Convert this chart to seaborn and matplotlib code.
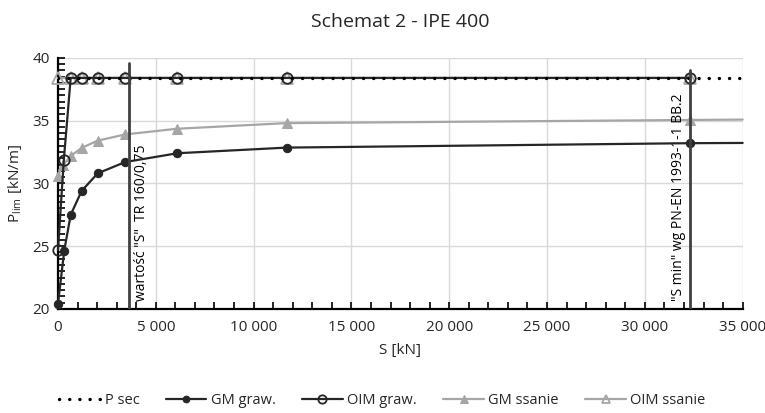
import matplotlib
matplotlib.use("Agg")
import matplotlib.pyplot as plt
import seaborn as sns
import numpy as np
import pandas as pd
from matplotlib.ticker import FuncFormatter, MultipleLocator

# ---- data ----
psec_x = [0, 35000]
psec_y = [38.4, 38.4]

gm_graw_x = [0, 320, 650, 1210, 2030, 3440, 6100, 11700, 32300, 35000]
gm_graw_y = [20.4, 24.65, 27.5, 29.4, 30.8, 31.7, 32.4, 32.85, 33.2, 33.22]

oim_graw_x = [0, 300, 650, 1210, 2030, 3440, 6100, 11700, 32300]
oim_graw_y = [24.7, 31.9, 38.4, 38.4, 38.4, 38.4, 38.4, 38.4, 38.4]

gm_ss_x = [0, 270, 660, 1240, 2030, 3440, 6080, 11700, 32300, 35000]
gm_ss_y = [30.6, 31.5, 32.2, 32.85, 33.4, 33.9, 34.35, 34.8, 35.05, 35.08]

oim_ss_x = [0, 650, 1210, 2030, 3440, 6100, 11700, 32300]
oim_ss_y = [38.4, 38.4, 38.4, 38.4, 38.4, 38.4, 38.4, 38.4]

vline1_x = 3620
vline1_top = 39.55
vline1_label = 'wartość "S"  TR 160/0,75'
vline2_x = 32330
vline2_top = 39.0
vline2_label = '"S min" wg PN-EN 1993-1-1 BB.2'

title = "Schemat 2 - IPE 400"
xlabel = "S [kN]"
ylabel = r"P$_{\mathregular{lim}}$ [kN/m]"

sns.set_theme(style="white")
plt.rcParams['font.family'] = ['Open Sans', 'DejaVu Sans']

fig = plt.figure(figsize=(7.65, 4.13), dpi=100)
ax = fig.add_axes([0.0758, 0.252, 0.895, 0.608])

dark = "#262626"
grey = "#a6a6a6"
vcol = "#404040"

sns.lineplot(x=psec_x, y=psec_y, ax=ax, color="black", lw=2.4,
             linestyle=(0, (0.05, 3.0)), dash_capstyle='round', label="P sec", zorder=6)
sns.lineplot(x=gm_graw_x, y=gm_graw_y, ax=ax, color=dark, lw=1.6, marker="o",
             markersize=6, markeredgecolor=dark, label="GM graw.", zorder=4, sort=False,
             markevery=list(range(len(gm_graw_x) - 1)), clip_on=False)
sns.lineplot(x=oim_graw_x, y=oim_graw_y, ax=ax, color=dark, lw=1.6, marker="o",
             markersize=7.5, markerfacecolor="none", markeredgecolor=dark, markeredgewidth=1.3,
             label="OIM graw.", zorder=5, sort=False, clip_on=False)
sns.lineplot(x=gm_ss_x, y=gm_ss_y, ax=ax, color=grey, lw=1.6, marker="^",
             markersize=6.5, markeredgecolor=grey, label="GM ssanie", zorder=3, sort=False,
             markevery=list(range(len(gm_ss_x) - 1)), clip_on=False)
sns.lineplot(x=oim_ss_x, y=oim_ss_y, ax=ax, color=grey, lw=1.6, marker="^",
             markersize=8, markerfacecolor="none", markeredgecolor=grey, markeredgewidth=1.3,
             label="OIM ssanie", zorder=3, sort=False, clip_on=False)

ax.plot([vline1_x, vline1_x], [20, vline1_top], color=vcol, lw=2, zorder=7)
ax.plot([vline2_x, vline2_x], [20, vline2_top], color=vcol, lw=2, zorder=7)
ax.text(vline1_x + 250, 20.6, vline1_label, rotation=90, ha="left", va="bottom",
        fontsize=10, color="black")
ax.text(vline2_x - 250, 20.6, vline2_label, rotation=90, ha="right", va="bottom",
        fontsize=10, color="black")

ax.set_xlim(0, 35000)
ax.set_ylim(20, 40)
ax.xaxis.set_major_locator(MultipleLocator(5000))
ax.xaxis.set_minor_locator(MultipleLocator(1000))
ax.yaxis.set_major_locator(MultipleLocator(5))
ax.yaxis.set_minor_locator(MultipleLocator(0.5))
ax.xaxis.set_major_formatter(FuncFormatter(lambda v, p: f"{int(v):,}".replace(",", " ")))
ax.grid(True, which="major", color="#d9d9d9", lw=1)
ax.set_axisbelow(True)

for s in ["top", "right"]:
    ax.spines[s].set_visible(False)
for s in ["left", "bottom"]:
    ax.spines[s].set_color("black")
    ax.spines[s].set_linewidth(1.6)
ax.tick_params(axis="both", which="both", direction="in", color="black", width=1.2,
               labelsize=11, pad=8)
ax.tick_params(axis="both", which="major", length=5)
ax.tick_params(axis="both", which="minor", length=5)
ax.tick_params(axis="x", which="both", top=False, bottom=True)
ax.tick_params(axis="y", which="both", left=True, right=False, pad=6)

ax.set_title(title, fontsize=14, pad=22)
ax.set_xlabel(xlabel, fontsize=11, labelpad=6)
ax.set_ylabel(ylabel, fontsize=11, labelpad=6)

ax.get_legend().remove()
h, l = ax.get_legend_handles_labels()
fig.legend(h, l, loc="lower center", ncol=5, frameon=False, fontsize=10.5,
           bbox_to_anchor=(0.5, -0.02), handlelength=2.8, columnspacing=1.8,
           handletextpad=0.3, markerscale=0.8)

fig.savefig("out.png", dpi=100)
